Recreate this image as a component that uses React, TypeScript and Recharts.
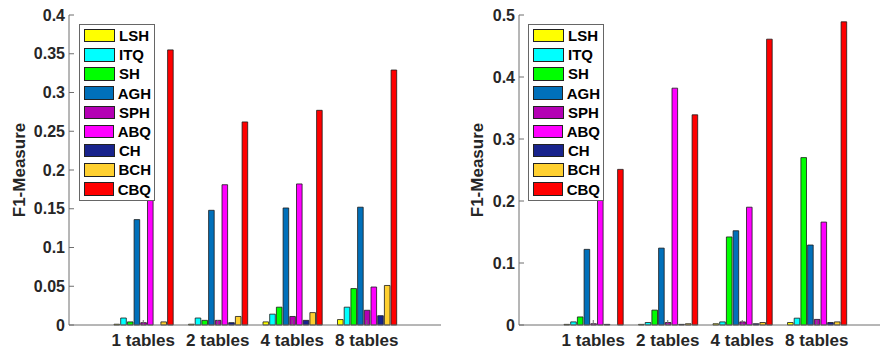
import { BarChart, Bar, XAxis, YAxis, Legend } from 'recharts'

const CATEGORIES = ['1 tables', '2 tables', '4 tables', '8 tables']
const METHODS = ['LSH', 'ITQ', 'SH', 'AGH', 'SPH', 'ABQ', 'CH', 'BCH', 'CBQ']
const COLORS = ['#FFFF00', '#00FFFF', '#00FF00', '#0070BA', '#B400B4', '#FF00FF', '#18238C', '#FFD030', '#FF0000']

// left panel (F1-Measure, 0 .. 0.4)
const LEFT_LSH = [0.001, 0.001, 0.004, 0.007]
const LEFT_ITQ = [0.009, 0.009, 0.014, 0.023]
const LEFT_SH = [0.004, 0.006, 0.023, 0.047]
const LEFT_AGH = [0.136, 0.148, 0.151, 0.152]
const LEFT_SPH = [0.003, 0.006, 0.011, 0.019]
const LEFT_ABQ = [0.19, 0.181, 0.182, 0.049]
const LEFT_CH = [0, 0.003, 0.006, 0.012]
const LEFT_BCH = [0.004, 0.011, 0.016, 0.051]
const LEFT_CBQ = [0.355, 0.262, 0.277, 0.329]
const LEFT_TICKS = [0, 0.05, 0.1, 0.15, 0.2, 0.25, 0.3, 0.35, 0.4]

// right panel (F1-Measure, 0 .. 0.5)
const RIGHT_LSH = [0.001, 0.001, 0.002, 0.004]
const RIGHT_ITQ = [0.005, 0.004, 0.005, 0.011]
const RIGHT_SH = [0.013, 0.024, 0.142, 0.27]
const RIGHT_AGH = [0.122, 0.124, 0.152, 0.129]
const RIGHT_SPH = [0.002, 0.004, 0.005, 0.009]
const RIGHT_ABQ = [0.25, 0.382, 0.19, 0.166]
const RIGHT_CH = [0.001, 0.001, 0.002, 0.004]
const RIGHT_BCH = [0, 0.002, 0.004, 0.005]
const RIGHT_CBQ = [0.251, 0.339, 0.461, 0.489]
const RIGHT_TICKS = [0, 0.1, 0.2, 0.3, 0.4, 0.5]

const FONT = '"Liberation Sans", Arial, sans-serif'
const AXIS = '#6f6f6f'
const TEXT = '#262626'

function buildRows(series: number[][]) {
  return CATEGORIES.map((name, i) => {
    const row: Record<string, string | number> = { name }
    METHODS.forEach((m, j) => {
      row[m] = series[j][i]
    })
    return row
  })
}

const leftData = buildRows([LEFT_LSH, LEFT_ITQ, LEFT_SH, LEFT_AGH, LEFT_SPH, LEFT_ABQ, LEFT_CH, LEFT_BCH, LEFT_CBQ])
const rightData = buildRows([RIGHT_LSH, RIGHT_ITQ, RIGHT_SH, RIGHT_AGH, RIGHT_SPH, RIGHT_ABQ, RIGHT_CH, RIGHT_BCH, RIGHT_CBQ])

function LegendBox() {
  return (
    <div
      style={{
        border: '1px solid #666',
        background: '#fff',
        padding: '1px 3px 1px 4px',
        fontFamily: FONT,
        fontWeight: 'bold',
        fontSize: 15,
        color: '#000',
        boxSizing: 'border-box',
      }}
    >
      {METHODS.map((m, i) => (
        <div key={m} style={{ display: 'flex', alignItems: 'center', height: 19.2 }}>
          <div
            style={{
              width: 31,
              height: 13.5,
              background: COLORS[i],
              border: '1px solid #222',
              boxSizing: 'border-box',
              marginRight: 4,
            }}
          />
          <span style={{ lineHeight: '15px' }}>{m}</span>
        </div>
      ))}
    </div>
  )
}

type PanelProps = {
  data: Record<string, string | number>[]
  ticks: number[]
  yWidth: number
  labelX: number
  legendLeft: number
}

function Panel({ data, ticks, yWidth, labelX, legendLeft }: PanelProps) {
  const max = ticks[ticks.length - 1]
  const width = yWidth + 372 + 4
  return (
    <BarChart
      width={width}
      height={349}
      data={data}
      margin={{ top: 15, right: 4, bottom: 0, left: 0 }}
      barSize={5.6}
      barGap={1.1}
    >
      <XAxis
        dataKey="name"
        height={24}
        padding={{ left: 37, right: 37 }}
        stroke={AXIS}
        tickSize={-5}
        tickMargin={14}
        tick={{ fill: TEXT, fontSize: 17, fontWeight: 'bold', fontFamily: FONT }}
      />
      <XAxis
        xAxisId="top"
        dataKey="name"
        orientation="top"
        height={0}
        padding={{ left: 37, right: 37 }}
        stroke={AXIS}
        tickSize={-5}
        tick={false}
      />
      <YAxis
        width={yWidth}
        domain={[0, max]}
        ticks={ticks}
        stroke={AXIS}
        tickSize={-5}
        tickMargin={9}
        tick={{ fill: TEXT, fontSize: 16, fontWeight: 'bold', fontFamily: FONT }}
        label={{
          content: (props: any) => {
            const vb = props.viewBox
            const cx = labelX
            const cy = vb.y + vb.height / 2
            return (
              <text
                x={cx}
                y={cy}
                transform={`rotate(-90, ${cx}, ${cy})`}
                textAnchor="middle"
                dominantBaseline="central"
                fill={TEXT}
                fontSize={17}
                fontWeight="bold"
                fontFamily={FONT}
              >
                F1-Measure
              </text>
            )
          },
        }}
      />
      <YAxis
        yAxisId="right"
        orientation="right"
        width={0}
        domain={[0, max]}
        ticks={ticks}
        stroke={AXIS}
        tickSize={-5}
        tick={false}
      />
      <Legend
        layout="vertical"
        align="center"
        verticalAlign="middle"
        wrapperStyle={{ left: legendLeft, top: 24, width: 76, height: 176 }}
        content={() => <LegendBox />}
      />
      {METHODS.map((m, i) => (
        <Bar
          key={m}
          dataKey={m}
          fill={COLORS[i]}
          stroke="#1a1a1a"
          strokeWidth={0.8}
          isAnimationActive={false}
        />
      ))}
    </BarChart>
  )
}

export default function App() {
  return (
    <div
      style={{
        position: 'absolute',
        left: 0,
        top: 0,
        width: 880,
        height: 349,
        overflow: 'hidden',
        background: '#fff',
      }}
    >
      <div style={{ position: 'absolute', left: 0, top: 0 }}>
        <Panel data={leftData} ticks={LEFT_TICKS} yWidth={69} labelX={19} legendLeft={79} />
      </div>
      <div style={{ position: 'absolute', left: 440, top: 0 }}>
        <Panel data={rightData} ticks={RIGHT_TICKS} yWidth={79} labelX={37} legendLeft={88} />
      </div>
    </div>
  )
}
